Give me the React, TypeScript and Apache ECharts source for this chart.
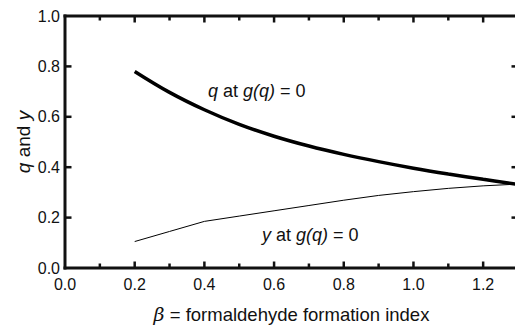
import React, { useEffect, useRef } from "react";
import * as echarts from "echarts";

const betaValues = [0.2, 0.3, 0.4, 0.5, 0.6, 0.7, 0.8, 0.9, 1.0, 1.1, 1.2, 1.3];
const qValues = [0.78, 0.697, 0.628, 0.57, 0.523, 0.484, 0.451, 0.422, 0.396, 0.373, 0.352, 0.332];
const yValues = [0.105, 0.145, 0.185, 0.206, 0.227, 0.248, 0.269, 0.288, 0.303, 0.316, 0.326, 0.333];
const xTickLabels = ["0.0", "0.2", "0.4", "0.6", "0.8", "1.0", "1.2"];
const yTickLabels = ["0.0", "0.2", "0.4", "0.6", "0.8", "1.0"];
const xMajorTicks = [0.2, 0.4, 0.6, 0.8, 1.0, 1.2];
const xMinorTicks = [0.1, 0.3, 0.5, 0.7, 0.9, 1.1];
const yMajorTicks = [0.2, 0.4, 0.6, 0.8];
const X_MIN = 0;
const X_MAX = 1.3;
const Y_MIN = 0;
const Y_MAX = 1;

const FONT = "'Liberation Sans', Arial, sans-serif";
const INK = "#111";

function makeOption(): any {
  const fmtX = (val: number) => { const s = val.toFixed(1); return xTickLabels.includes(s) ? s : ""; };
  const fmtY = (val: number) => { const s = val.toFixed(1); return yTickLabels.includes(s) ? s : ""; };
  const richI = { i: { fontStyle: "italic", fontSize: 18, fontFamily: FONT, fill: INK } };

  const frameRender = (_params: any, api: any) => {
    const tl = api.coord([X_MIN, Y_MAX]);
    const br = api.coord([X_MAX, Y_MIN]);
    const frameStyle = { stroke: INK, lineWidth: 3, lineCap: "square", fill: null };
    const tickStyle = { stroke: INK, lineWidth: 2.5, fill: null };
    const children: any[] = [
      { type: "line", shape: { x1: tl[0], y1: tl[1], x2: br[0], y2: tl[1] }, style: frameStyle },
      { type: "line", shape: { x1: tl[0], y1: br[1], x2: br[0], y2: br[1] }, style: frameStyle },
      { type: "line", shape: { x1: tl[0], y1: tl[1], x2: tl[0], y2: br[1] }, style: frameStyle },
      { type: "line", shape: { x1: br[0], y1: tl[1], x2: br[0], y2: br[1] }, style: frameStyle },
    ];
    const addX = (v: number, len: number) => {
      const p = api.coord([v, Y_MIN]);
      children.push({ type: "line", shape: { x1: p[0], y1: br[1], x2: p[0], y2: br[1] - len }, style: tickStyle });
      children.push({ type: "line", shape: { x1: p[0], y1: tl[1], x2: p[0], y2: tl[1] + len }, style: tickStyle });
    };
    xMajorTicks.forEach((v) => addX(v, 6.5));
    xMinorTicks.forEach((v) => addX(v, 4.5));
    yMajorTicks.forEach((v) => {
      const p = api.coord([X_MIN, v]);
      children.push({ type: "line", shape: { x1: tl[0], y1: p[1], x2: tl[0] + 6.5, y2: p[1] }, style: tickStyle });
      children.push({ type: "line", shape: { x1: br[0], y1: p[1], x2: br[0] - 6.5, y2: p[1] }, style: tickStyle });
    });
    return { type: "group", children };
  };

  return {
    animation: false,
    backgroundColor: "#fff",
    grid: { left: 65, top: 16, right: 12, bottom: 61, containLabel: false, outerBoundsMode: "none" },
    xAxis: {
      type: "value",
      min: X_MIN,
      max: X_MAX,
      interval: 0.2,
      splitLine: { show: false },
      axisLine: { show: false },
      axisTick: { show: false },
      axisLabel: { show: true, formatter: fmtX, showMaxLabel: false, fontSize: 16, color: INK, fontFamily: FONT, margin: 8 },
      name: "{b|β} = formaldehyde formation index",
      nameLocation: "middle",
      nameGap: 36,
      nameMoveOverlap: false,
      nameTextStyle: {
        fontSize: 18.5, color: INK, fontFamily: FONT, lineHeight: 20,
        rich: { b: { fontStyle: "italic", fontSize: 19, lineHeight: 20, fontFamily: "'DejaVu Serif', serif", color: INK } },
      },
    },
    yAxis: {
      type: "value",
      min: Y_MIN,
      max: Y_MAX,
      interval: 0.2,
      splitLine: { show: false },
      axisLine: { show: false },
      axisTick: { show: false },
      axisLabel: { show: true, formatter: fmtY, fontSize: 16, color: INK, fontFamily: FONT, margin: 5 },
      name: "{i|q} and {i|y}",
      nameLocation: "middle",
      nameGap: 32,
      nameRotate: 90,
      nameMoveOverlap: false,
      nameTextStyle: {
        fontSize: 19, color: INK, fontFamily: FONT,
        rich: { i: { fontStyle: "italic", fontSize: 19, fontFamily: FONT, color: INK } },
      },
    },
    series: [
      {
        type: "line",
        data: betaValues.map((b, i) => [b, qValues[i]]),
        showSymbol: false,
        smooth: 0.4,
        lineStyle: { color: "#000", width: 3.5 },
      },
      {
        type: "line",
        data: betaValues.map((b, i) => [b, yValues[i]]),
        showSymbol: false,
        lineStyle: { color: "#000", width: 1 },
      },
      {
        type: "custom",
        coordinateSystem: "cartesian2d",
        clip: false,
        silent: true,
        z: 5,
        data: [[X_MIN, Y_MIN]],
        renderItem: frameRender,
      },
    ],
    graphic: [
      {
        type: "text", left: 208, top: 82,
        style: { text: "{i|q} at {i|g(q)} = 0", fontSize: 18, fill: INK, fontFamily: FONT, rich: richI },
      },
      {
        type: "text", left: 262, top: 226,
        style: { text: "{i|y} at {i|g(q)} = 0", fontSize: 18, fill: INK, fontFamily: FONT, rich: richI },
      },
    ],
  };
}

export default function App() {
  const ref = useRef<HTMLDivElement>(null);
  useEffect(() => {
    if (!ref.current) return;
    const chart = echarts.init(ref.current, undefined, { renderer: "svg" });
    chart.setOption(makeOption());
    return () => chart.dispose();
  }, []);
  return (
    <div style={{ position: "fixed", left: 0, top: 0, width: 515, height: 329, overflow: "hidden" }}>
      <div ref={ref} style={{ width: 530, height: 329 }} />
    </div>
  );
}
